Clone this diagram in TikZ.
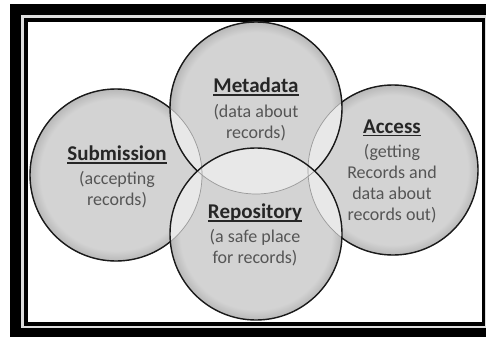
\documentclass[tikz,border=0pt]{standalone}
\usepackage{fontspec}
\setmainfont{Carlito}
\definecolor{cin}{HTML}{D3D3D3}
\definecolor{cout}{HTML}{B8B8B8}
\definecolor{lens}{HTML}{E8E8E8}
\definecolor{darkline}{HTML}{1A1A1A}
\definecolor{thinline}{HTML}{9A9A9A}
\definecolor{titlecol}{HTML}{262626}
\definecolor{subcol}{HTML}{555555}
\definecolor{gapcol}{HTML}{DDDDDD}
\pgfdeclareradialshading{circshade}{\pgfpointorigin}{color(0bp)=(cin); color(22bp)=(cin); color(25bp)=(cout); color(50bp)=(cout)}
\newcommand\myul[1]{\setbox0\hbox{#1}\rlap{\rule[-3pt]{\wd0}{1.4pt}}\box0}
\tikzset{
  ttl/.style={font=\fontsize{21}{24}\selectfont\bfseries, text=titlecol, inner sep=0pt},
  subtxt/.style={font=\fontsize{18}{21}\selectfont, text=subcol, align=center, inner sep=0pt},
  darkedge/.style={draw=darkline, line width=1.4pt},
  thinedge/.style={draw=thinline, line width=0.7pt}
}
\begin{document}
\begin{tikzpicture}[x=1pt,y=-1pt]
\useasboundingbox (0,0) rectangle (486,337);
% frame
\fill[black] (10,4) rectangle (486,337);
\fill[gapcol] (21,15) rectangle (486,328);
\fill[black] (24,18.5) rectangle (485,325.5);
\fill[white] (27.5,22.5) rectangle (481.5,322);
% circle centres
\coordinate (S) at (116,175);
\coordinate (A) at (393,170);
\coordinate (M) at (256,108);
\coordinate (R) at (256,234);
% fills
\shade[shading=circshade] (S) circle (86pt);
\shade[shading=circshade] (A) circle (85pt);
\shade[shading=circshade] (M) circle (86pt);
\shade[shading=circshade] (R) circle (86pt);
% lenses
\begin{scope}
  \clip (S) circle (86pt);
  \fill[lens] (M) circle (86pt);
  \fill[lens] (R) circle (86pt);
\end{scope}
\begin{scope}
  \clip (A) circle (85pt);
  \fill[lens] (M) circle (86pt);
  \fill[lens] (R) circle (86pt);
\end{scope}
\begin{scope}
  \clip (M) circle (86pt);
  \fill[lens] (R) circle (86pt);
\end{scope}
% thin outlines
\path[thinedge] (S) circle (86pt);
\path[thinedge] (A) circle (85pt);
\path[thinedge] (M) circle (86pt);
% dark outlines
\begin{scope}[even odd rule]
  \clip (-10,-10) rectangle (500,350) (M) circle (86pt);
  \clip (-10,-10) rectangle (500,350) (R) circle (86pt);
  \path[darkedge] (S) circle (86pt);
  \path[darkedge] (A) circle (85pt);
\end{scope}
\begin{scope}[even odd rule]
  \clip (-10,-10) rectangle (500,350) (R) circle (86pt);
  \path[darkedge] (M) circle (86pt);
\end{scope}
\path[darkedge] (R) circle (86pt);
% texts
\node[ttl] (Mt) at (256,87) {\myul{Metadata}};
\node[subtxt] (Md) at (256,122.5) {(data about\\records)};
\node[ttl] (St) at (117,155) {\myul{Submission}};
\node[subtxt] (Sd) at (117,189.5) {(accepting\\records)};
\node[ttl] (At) at (392,128) {\myul{Access}};
\node[subtxt] (Ad) at (392,183.5) {(getting\\Records and\\data about\\records out)};
\node[ttl] (Rt) at (255,213) {\myul{Repository}};
\node[subtxt] (Rd) at (255,247.5) {(a safe place\\for records)};
\end{tikzpicture}
\end{document}
